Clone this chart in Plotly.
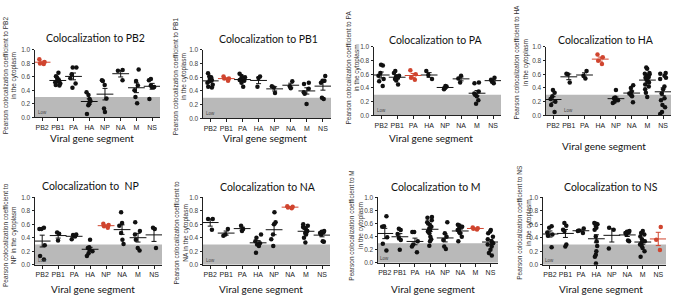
import numpy as np
import plotly.graph_objects as go

segments = ["PB2", "PB1", "PA", "HA", "NP", "NA", "M", "NS"]
targets = ["PB2", "PB1", "PA", "HA", "NP", "NA", "M", "NS"]
titles = ["Colocalization to PB2", "Colocalization to PB1", "Colocalization to PA",
          "Colocalization to HA", "Colocalization to  NP", "Colocalization to NA",
          "Colocalization to M", "Colocalization to NS"]
ytitles = ["Pearson colocalization coefficient to PB2<br>in the cytoplasm",
           "Pearson colocalization coefficient to PB1<br>in the cytoplasm",
           "Pearson colocalization coefficient to PA<br>in the cytoplasm",
           "Pearson colocalization coefficient to HA<br>in the cytoplasm",
           "Pearson colocalization coefficient to<br>NP in the cytoplasm",
           "Pearson colocalization coefficient to<br>NA in the cytoplasm",
           "Pearson colocalization coefficient to M<br>in the cytoplasm",
           "Pearson colocalization coefficient to NS<br>in the cytoplasm"]
xtitle = "Viral gene segment"
low_label = "Low"
low_threshold = 0.3
yticks = [0.0, 0.2, 0.4, 0.6, 0.8, 1.0]

# values per viral gene segment (order of `segments`)
to_PB2 = [[0.86, 0.80, 0.79, 0.82],
          [0.66, 0.61, 0.59, 0.56, 0.54, 0.52, 0.50, 0.48, 0.47, 0.55, 0.53],
          [0.74, 0.74, 0.64, 0.58, 0.50, 0.44],
          [0.37, 0.33, 0.27, 0.24, 0.18, 0.05, 0.20],
          [0.55, 0.54, 0.48, 0.28, 0.13, 0.08],
          [0.70, 0.69, 0.55],
          [0.71, 0.54, 0.47, 0.40, 0.30, 0.21],
          [0.57, 0.55, 0.47, 0.45, 0.45, 0.27]]
to_PB1 = [[0.66, 0.61, 0.58, 0.56, 0.54, 0.52, 0.49, 0.46, 0.45, 0.60],
          [0.61, 0.58, 0.55, 0.58],
          [0.65, 0.62, 0.60, 0.57, 0.55, 0.52, 0.46, 0.56],
          [0.61, 0.59, 0.46],
          [0.47, 0.45, 0.37],
          [0.54, 0.47, 0.44],
          [0.52, 0.50, 0.43, 0.38, 0.36, 0.21],
          [0.62, 0.55, 0.52, 0.30, 0.28, 0.55]]
to_PA = [[0.74, 0.73, 0.62, 0.58, 0.50, 0.43, 0.53],
         [0.65, 0.62, 0.58, 0.55, 0.53, 0.51, 0.45, 0.57],
         [0.66, 0.60, 0.55, 0.52],
         [0.65, 0.59, 0.53],
         [0.43, 0.42, 0.40, 0.38],
         [0.58, 0.54, 0.48],
         [0.48, 0.47, 0.35, 0.30, 0.28, 0.22, 0.17, 0.32],
         [0.55, 0.52, 0.49, 0.47]]
to_HA = [[0.37, 0.33, 0.28, 0.24, 0.20, 0.15, 0.05],
         [0.61, 0.60, 0.48],
         [0.65, 0.58, 0.54],
         [0.89, 0.85, 0.80, 0.75],
         [0.37, 0.26, 0.25, 0.23, 0.20, 0.18, 0.22],
         [0.44, 0.40, 0.35, 0.32, 0.30, 0.28, 0.19],
         [0.70, 0.68, 0.62, 0.61, 0.60, 0.58, 0.55, 0.52, 0.50, 0.48, 0.45, 0.42, 0.38, 0.33, 0.27, 0.56],
         [0.62, 0.61, 0.55, 0.53, 0.42, 0.38, 0.32, 0.22, 0.15, 0.12, 0.05, 0.02, 0.58, 0.25]]
to_NP = [[0.55, 0.53, 0.53, 0.29, 0.13, 0.08],
         [0.48, 0.46, 0.36],
         [0.45, 0.44, 0.42, 0.38],
         [0.37, 0.26, 0.25, 0.23, 0.20, 0.17, 0.13],
         [0.61, 0.59, 0.57, 0.55],
         [0.78, 0.62, 0.58, 0.47, 0.37, 0.31],
         [0.63, 0.50, 0.45, 0.37, 0.25, 0.21],
         [0.55, 0.53, 0.25]]
to_NA = [[0.68, 0.68, 0.52],
         [0.53, 0.45, 0.43],
         [0.58, 0.53, 0.50],
         [0.45, 0.40, 0.35, 0.32, 0.30, 0.28, 0.18],
         [0.78, 0.63, 0.60, 0.45, 0.38, 0.28],
         [0.87, 0.86, 0.85, 0.84],
         [0.60, 0.58, 0.56, 0.53, 0.50, 0.47, 0.45, 0.40, 0.33, 0.55],
         [0.50, 0.49, 0.48, 0.47, 0.45, 0.35, 0.34]]
to_M = [[0.71, 0.56, 0.55, 0.39, 0.29, 0.19],
        [0.52, 0.50, 0.44, 0.38, 0.35, 0.20],
        [0.47, 0.47, 0.33, 0.28, 0.25, 0.16],
        [0.70, 0.69, 0.62, 0.60, 0.58, 0.55, 0.52, 0.50, 0.48, 0.45, 0.40, 0.36, 0.33, 0.26, 0.65],
        [0.62, 0.45, 0.40, 0.35, 0.25, 0.21],
        [0.58, 0.57, 0.55, 0.53, 0.50, 0.47, 0.45, 0.40, 0.33],
        [0.54, 0.53, 0.52, 0.51],
        [0.50, 0.48, 0.45, 0.40, 0.36, 0.33, 0.30, 0.28, 0.25, 0.20, 0.15, 0.11]]
to_NS = [[0.57, 0.55, 0.48, 0.45, 0.43, 0.26],
         [0.62, 0.58, 0.52, 0.50, 0.30, 0.27],
         [0.54, 0.51, 0.50, 0.47],
         [0.62, 0.61, 0.58, 0.55, 0.42, 0.35, 0.28, 0.20, 0.15, 0.12, 0.02, 0.60, 0.52],
         [0.55, 0.52, 0.24],
         [0.50, 0.49, 0.48, 0.47, 0.45, 0.36, 0.35],
         [0.50, 0.47, 0.45, 0.42, 0.38, 0.35, 0.30, 0.28, 0.25, 0.20, 0.12, 0.33],
         [0.56, 0.37, 0.22]]

panels = [to_PB2, to_PB1, to_PA, to_HA, to_NP, to_NA, to_M, to_NS]

# ---- layout geometry (pixels) ----
W, H = 674, 300
boxes = [(35, 160, 47, 116), (203, 331, 47, 117), (374, 501, 44, 114), (546, 671, 44, 114),
         (35, 162, 198, 267), (203, 330, 198, 267), (378, 498, 198, 265), (543, 666, 198, 267)]
title_pos = [(95, 35), (268, 36), (436, 37), (606, 37), (90, 186), (268, 187), (436, 187), (611, 187)]
xt_pos = [(92, 137), (265, 137), (431, 137), (604, 145), (93, 292), (261, 292), (433, 292), (601, 292)]
yt_pos = [(10, 73), (180, 74), (353, 65), (521, 60), (10.5, 237), (181, 234), (356, 227), (524, 224)]
low_x = [0, 0, 0, 1, 0, 0, 0, 0]

BLACK = "#111111"
RED = "#d0452f"
GREY = "#b9b9b9"

def px(x):
    return x / W

def py(y):
    return 1 - y / H

fig = go.Figure()
annotations = []
shapes = []
layout = {}

for i, (data, tgt) in enumerate(zip(panels, targets)):
    n = i + 1
    xa = "x" if n == 1 else f"x{n}"
    ya = "y" if n == 1 else f"y{n}"
    x0, x1, y0, y1 = boxes[i]

    bx, by, rx, ry = [], [], [], []
    for seg, vals in zip(segments, data):
        for v in vals:
            if seg == tgt:
                rx.append(seg); ry.append(v)
            else:
                bx.append(seg); by.append(v)

    common = dict(boxpoints="all", pointpos=0, jitter=0.75, width=0.55,
                  fillcolor="rgba(0,0,0,0)", line=dict(width=0, color="rgba(0,0,0,0)"),
                  whiskerwidth=0, showlegend=False, hoverinfo="y", xaxis=xa, yaxis=ya)
    fig.add_trace(go.Box(x=bx, y=by, marker=dict(color=BLACK, size=4.5), **common))
    fig.add_trace(go.Box(x=rx, y=ry, marker=dict(color=RED, size=4.5), **common))

    means = [float(np.mean(v)) for v in data]
    sems = [float(np.std(v, ddof=1) / np.sqrt(len(v))) for v in data]
    for color, sel in [(BLACK, lambda s: s != tgt), (RED, lambda s: s == tgt)]:
        mx = [s for s in segments if sel(s)]
        my = [m for s, m in zip(segments, means) if sel(s)]
        me = [e for s, e in zip(segments, sems) if sel(s)]
        fig.add_trace(go.Scatter(
            x=mx, y=my, mode="markers", showlegend=False, hoverinfo="skip",
            marker=dict(symbol="line-ew", size=12, color=color, line=dict(width=1, color=color)),
            error_y=dict(type="data", array=me, visible=True, thickness=1, width=2.5, color=color),
            xaxis=xa, yaxis=ya))

    xkey = "xaxis" if n == 1 else f"xaxis{n}"
    ykey = "yaxis" if n == 1 else f"yaxis{n}"
    layout[xkey] = dict(domain=[px(x0), px(x1)], anchor=ya, type="category",
                        categoryorder="array", categoryarray=segments,
                        range=[-0.45, 7.5], showline=True, linecolor="#222", linewidth=1,
                        ticks="outside", ticklen=3, tickwidth=1, tickcolor="#222",
                        tickangle=0, showgrid=False, zeroline=False,
                        tickfont=dict(family="Liberation Sans, Arial", size=7, color="#222"))
    layout[ykey] = dict(domain=[py(y1), py(y0)], anchor=xa, range=[0, 1.0],
                        tickvals=yticks, ticktext=[f"{t:.1f}" for t in yticks],
                        showline=True, linecolor="#222", linewidth=1,
                        ticks="outside", ticklen=2.5, tickwidth=1, tickcolor="#222",
                        showgrid=False, zeroline=False,
                        tickfont=dict(family="Liberation Sans, Arial", size=6.5, color="#444"))

    shapes.append(dict(type="rect", xref=f"{xa} domain", yref=ya, x0=0, x1=1,
                       y0=0, y1=low_threshold, fillcolor=GREY, line=dict(width=0), layer="below"))

    annotations.append(dict(text=titles[i], x=px(title_pos[i][0]), y=py(title_pos[i][1]),
                            xref="paper", yref="paper", showarrow=False,
                            xanchor="center", yanchor="middle",
                            font=dict(family="Lato, Open Sans", size=10.5, color="#111")))
    annotations.append(dict(text=xtitle, x=px(xt_pos[i][0]), y=py(xt_pos[i][1]),
                            xref="paper", yref="paper", showarrow=False,
                            xanchor="center", yanchor="middle",
                            font=dict(family="Lato, Open Sans", size=10, color="#111")))
    annotations.append(dict(text=ytitles[i], x=px(yt_pos[i][0]), y=py(yt_pos[i][1]),
                            xref="paper", yref="paper", showarrow=False, textangle=-90,
                            xanchor="center", yanchor="middle",
                            font=dict(family="Liberation Sans, Arial", size=6.5, color="#333")))
    annotations.append(dict(text=low_label, x=low_x[i], y=0.07, xref=xa, yref=ya,
                            showarrow=False, xanchor="center", yanchor="middle",
                            font=dict(family="Liberation Sans, Arial", size=4.5, color="#444")))

fig.update_layout(width=W, height=H, margin=dict(l=0, r=0, t=0, b=0),
                  paper_bgcolor="white", plot_bgcolor="white", boxmode="overlay",
                  showlegend=False, annotations=annotations, shapes=shapes, **layout)

fig.write_html("out.html", config={"displayModeBar": False},
               post_script="document.body.style.margin='0';document.body.style.overflow='hidden';")
